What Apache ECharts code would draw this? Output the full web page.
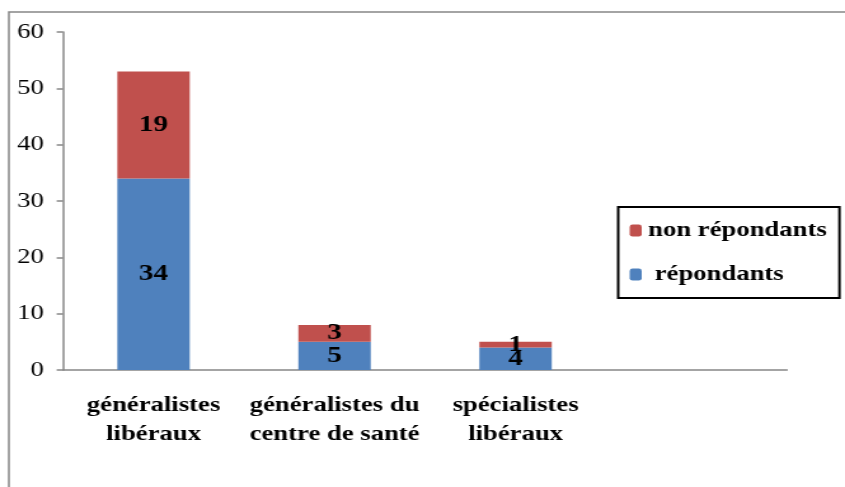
<!DOCTYPE html>
<html>
<head>
<meta charset="utf-8">
<script src="https://cdn.jsdelivr.net/npm/echarts@6/dist/echarts.min.js"></script>
<style>
  html, body { margin: 0; padding: 0; background: #fff; overflow: hidden; }
  /* the source picture is stretched sideways, so the chart is drawn narrower and scaled back out */
  #chart { width: 665px; height: 487px; transform: scaleX(1.2707); transform-origin: 0 0; }
</style>
</head>
<body>
<div id="chart"></div>
<script>
const categories = ['généralistes\nlibéraux', 'généralistes du\ncentre de santé', 'spécialistes\nlibéraux', '']
const repondants = [34, 5, 4, null]
const nonRepondants = [19, 3, 1, null]
const yTicks = { min: 0, max: 60, interval: 10 }

const serif = '"Liberation Serif", "DejaVu Serif", serif'
const axisGray = '#868686'

const chart = echarts.init(document.getElementById('chart'))

const barLabel = {
  show: true,
  position: 'inside',
  color: '#000',
  fontFamily: serif,
  fontWeight: 'bold',
  fontSize: 23
}

chart.setOption({
  animation: false,
  graphic: [{
    type: 'rect',
    shape: { x: 7, y: 12, width: 900, height: 600 },
    style: { fill: 'none', stroke: axisGray, lineWidth: 1.5 },
    silent: true
  }],
  grid: {
    left: 49.6,
    top: 32,
    right: 45.6,
    bottom: 117
  },
  legend: {
    orient: 'vertical',
    left: 486.5,
    top: 207,
    padding: [13, 10, 13, 9],
    borderColor: '#000',
    borderWidth: 2,
    itemWidth: 9.5,
    itemHeight: 12,
    itemGap: 23,
    itemTextGap: 6,
    data: ['non répondants', 'répondants'],
    formatter: function (name) {
      return name === 'répondants' ? ' ' + name : name
    },
    textStyle: {
      fontFamily: serif,
      fontWeight: 'bold',
      fontSize: 21,
      color: '#000'
    }
  },
  xAxis: {
    type: 'category',
    data: categories,
    axisLine: { lineStyle: { color: axisGray, width: 1.5 } },
    axisTick: { length: 6, lineStyle: { color: axisGray, width: 1.5 } },
    axisLabel: {
      interval: 0,
      margin: 21,
      color: '#000',
      fontFamily: serif,
      fontWeight: 'bold',
      fontSize: 21,
      lineHeight: 29
    }
  },
  yAxis: {
    type: 'value',
    min: yTicks.min,
    max: yTicks.max,
    interval: yTicks.interval,
    axisLine: { show: true, lineStyle: { color: axisGray, width: 1.5 } },
    axisTick: { show: true, length: 5, lineStyle: { color: axisGray, width: 1.5 } },
    splitLine: { show: false },
    axisLabel: {
      margin: 15,
      color: '#000',
      fontFamily: serif,
      fontSize: 21
    }
  },
  series: [{
    name: 'répondants',
    type: 'bar',
    stack: 'total',
    barWidth: '40%',
    itemStyle: { color: '#4F81BD' },
    label: barLabel,
    data: repondants
  },
  {
    name: 'non répondants',
    type: 'bar',
    stack: 'total',
    barWidth: '40%',
    itemStyle: { color: '#C0504D' },
    label: barLabel,
    data: nonRepondants
  }]
})
</script>
</body>
</html>
